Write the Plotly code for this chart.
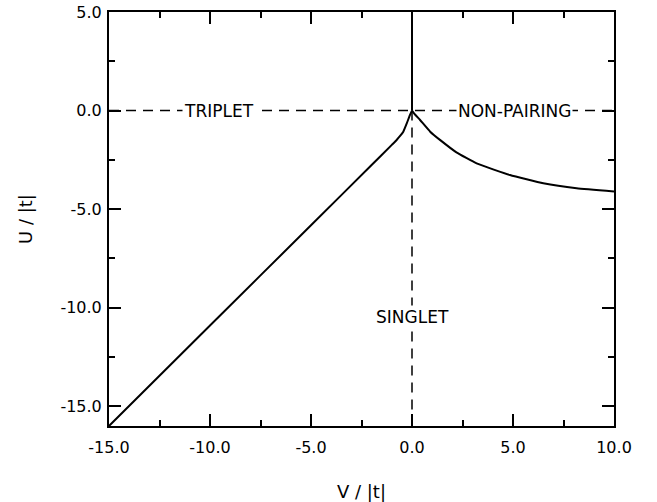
import plotly.graph_objects as go

# Phase boundary data
left_V = [-15.0, -10.0, -5.0, -2.0, -1.0, -0.76, -0.6, -0.43, -0.26, -0.1, 0.0]
left_U = [-16.0, -10.9, -5.82, -2.76, -1.74, -1.49, -1.3, -1.07, -0.65, -0.22, 0.0]
right_V = [0.0, 0.15, 0.4, 0.9, 1.4, 2.2, 3.2, 4.85, 6.5, 8.15, 10.0]
right_U = [0.0, -0.2, -0.48, -1.07, -1.5, -2.12, -2.68, -3.27, -3.69, -3.94, -4.1]
upper_V = [0.0, 0.0]
upper_U = [0.0, 5.0]
hdash_V = [-15.0, 10.0]
hdash_U = [0.0, 0.0]
vdash_V = [0.0, 0.0]
vdash_U = [0.0, -16.0]

x_tickvals = [-15, -10, -5, 0, 5, 10]
x_ticktext = ["-15.0", "-10.0", "-5.0", "0.0", "5.0", "10.0"]
y_tickvals = [-15, -10, -5, 0, 5]
y_ticktext = ["-15.0", "-10.0", "-5.0", "0.0", "5.0"]
x_minor = [-12.5, -7.5, -2.5, 2.5, 7.5]
y_minor = [-12.5, -7.5, -2.5, 2.5]

labels = ["TRIPLET", "NON-PAIRING", "SINGLET"]
label_V = [-9.55, 5.07, 0.0]
label_U = [0.0, 0.0, -10.45]

font = "DejaVu Sans"
fig = go.Figure()
dash = "10px,7px"
fig.add_trace(go.Scatter(x=hdash_V, y=hdash_U, mode="lines",
                         line=dict(color="black", width=1.5, dash=dash)))
fig.add_trace(go.Scatter(x=vdash_V, y=vdash_U, mode="lines",
                         line=dict(color="black", width=1.5, dash=dash)))
for xs, ys in [(left_V, left_U), (right_V, right_U), (upper_V, upper_U)]:
    fig.add_trace(go.Scatter(x=xs, y=ys, mode="lines",
                             line=dict(color="black", width=2, shape="spline", smoothing=0.4)))

for t, xv, yv in zip(labels, label_V, label_U):
    fig.add_annotation(x=xv, y=yv, text=t, showarrow=False,
                       font=dict(family=font, size=17, color="black"),
                       bgcolor="white", borderpad=1)

axis_common = dict(showline=True, linecolor="black", linewidth=2, mirror="allticks",
                   ticks="inside", ticklen=12, tickwidth=1.5, tickcolor="black",
                   showgrid=False, zeroline=False, automargin=False,
                   tickfont=dict(family=font, size=16, color="black"))
fig.update_xaxes(range=[-15, 10], tickmode="array", tickvals=x_tickvals, ticktext=x_ticktext,
                 minor=dict(tickmode="array", tickvals=x_minor, ticks="inside", ticklen=6,
                            tickwidth=1.5, tickcolor="black", showgrid=False),
                 title=dict(text="V / |t|", font=dict(family=font, size=18, color="black"), standoff=30),
                 ticklabelstandoff=6,
                 **axis_common)
fig.update_yaxes(range=[-16, 5], tickmode="array", tickvals=y_tickvals, ticktext=y_ticktext,
                 minor=dict(tickmode="array", tickvals=y_minor, ticks="inside", ticklen=6,
                            tickwidth=1.5, tickcolor="black", showgrid=False),
                 title=dict(text="U / |t|", font=dict(family=font, size=18, color="black"), standoff=23),
                 ticklabelstandoff=2,
                 **axis_common)
fig.update_layout(width=657, height=502, showlegend=False,
                  plot_bgcolor="white", paper_bgcolor="white",
                  margin=dict(l=109, r=43, t=12, b=76))
fig.write_html("out.html", config={"displayModeBar": False},
               post_script="document.body.style.margin='0';")
